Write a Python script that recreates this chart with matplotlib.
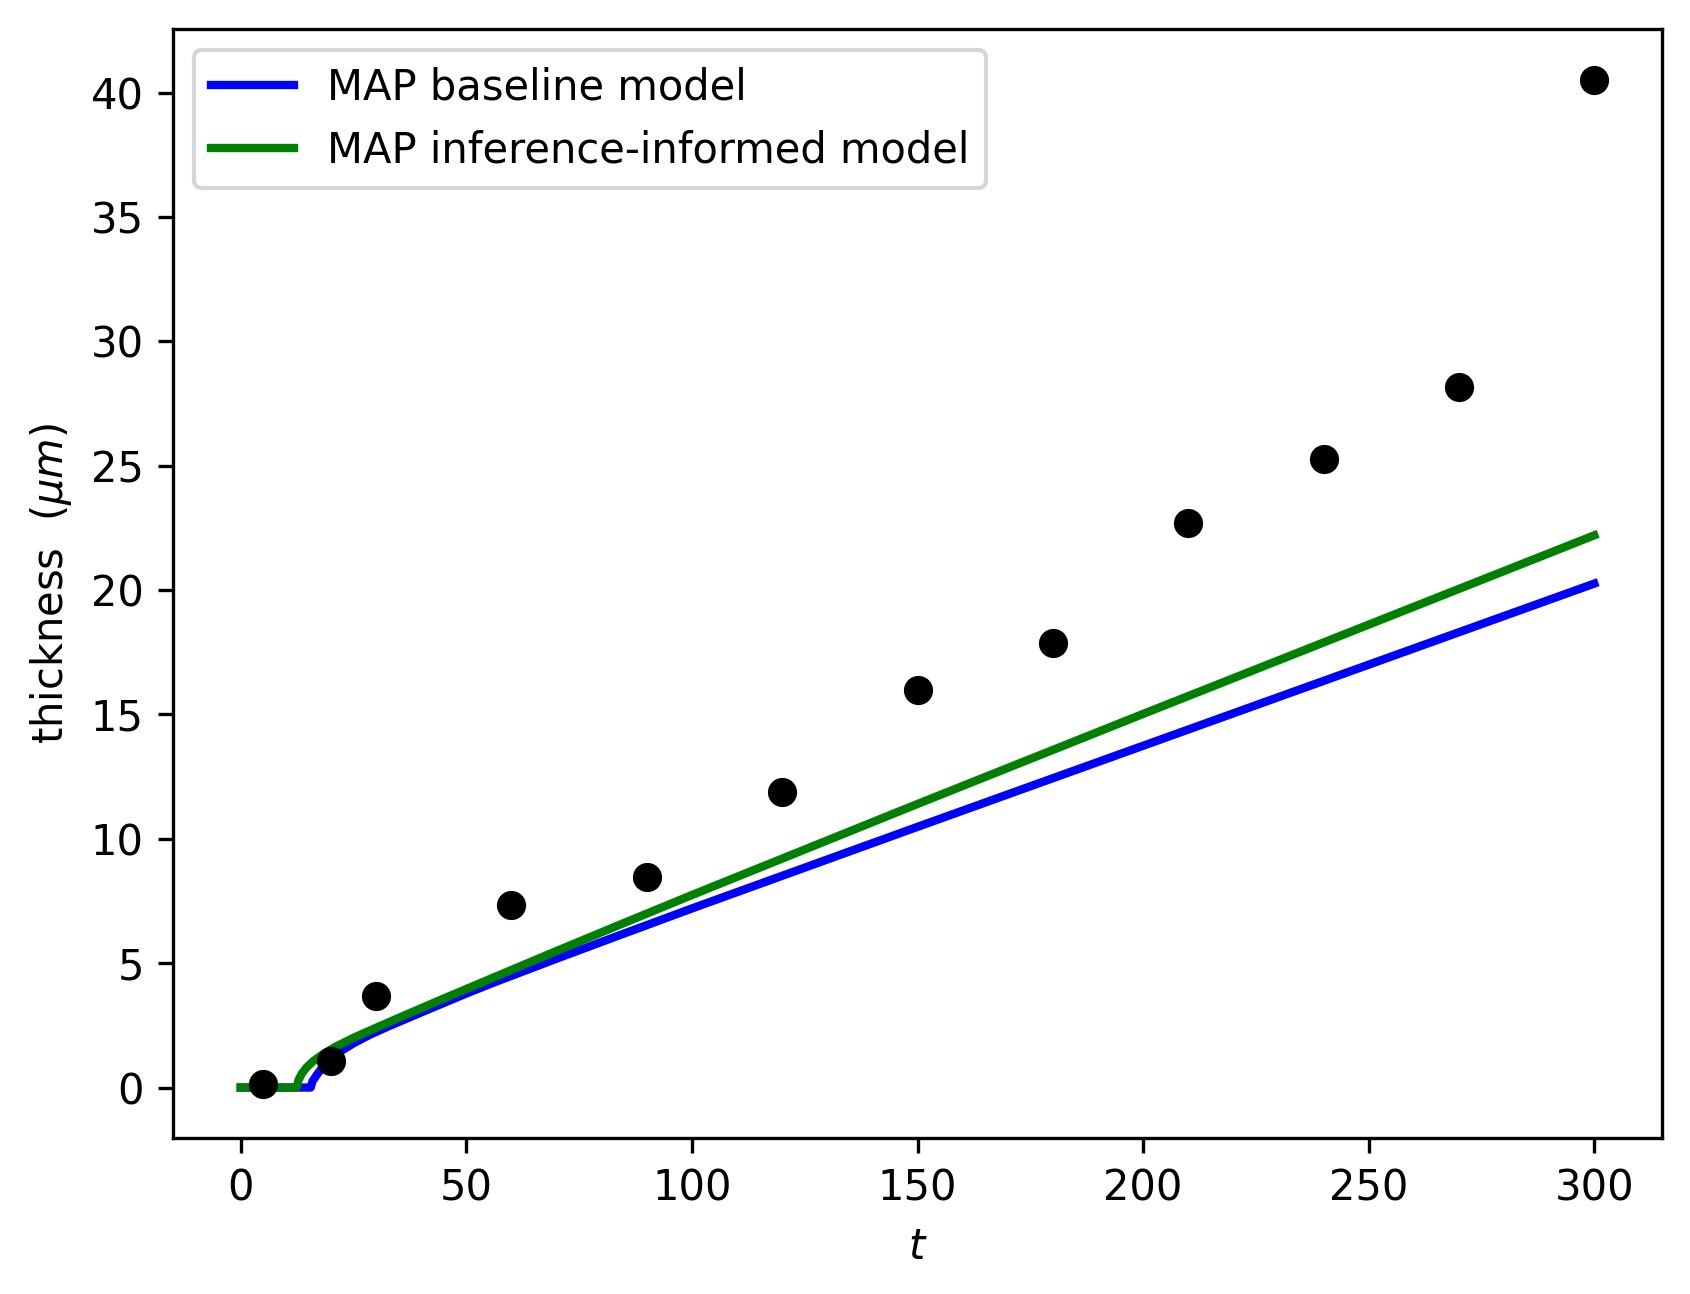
import numpy as np
import matplotlib.pyplot as plt

# measured thickness
t_obs = [5, 20, 30, 60, 90, 120, 150, 180, 210, 240, 270, 300]
y_obs = [0.15, 1.08, 3.7, 7.35, 8.47, 11.9, 15.97, 17.88, 22.7, 25.27, 28.17, 40.52]

# MAP baseline model
t_base = [0, 15.5, 15.9, 16.9, 18, 19.1, 21, 25, 28.7, 33, 40, 50, 56.5, 70, 84.2,
          100, 150, 200, 250, 300]
y_base = [0, 0, 0.25, 0.52, 0.78, 1.02, 1.33, 1.78, 2.13, 2.48, 3.02, 3.78, 4.25, 5.18,
          6.14, 7.2, 10.48, 13.74, 17.0, 20.26]

# MAP inference-informed model
t_inf = [0, 12.4, 12.8, 13.5, 14.6, 16, 18.3, 21, 25, 28.7, 35, 45, 56.5, 70, 84.2,
         100, 150, 200, 250, 300]
y_inf = [0, 0, 0.3, 0.55, 0.81, 1.05, 1.35, 1.64, 2.0, 2.3, 2.8, 3.58, 4.46, 5.49,
         6.56, 7.74, 11.4, 15.02, 18.61, 22.2]

fig = plt.figure(figsize=(1690 / 300, 1294 / 300), dpi=300)
ax = fig.add_axes([0.1024, 0.1206, 0.881, 0.8568])

ax.plot(t_base, y_base, color='blue', lw=2, solid_joinstyle='round',
        label='MAP baseline model')
ax.plot(t_inf, y_inf, color='green', lw=2, solid_joinstyle='round',
        label='MAP inference-informed model')
ax.plot(t_obs, y_obs, 'ko', markersize=6)

ax.set_xlabel('$t$')
ax.set_ylabel(r'thickness  ($\mu m$)')
ax.legend(loc='upper left')

plt.savefig('out.png', dpi=300)
